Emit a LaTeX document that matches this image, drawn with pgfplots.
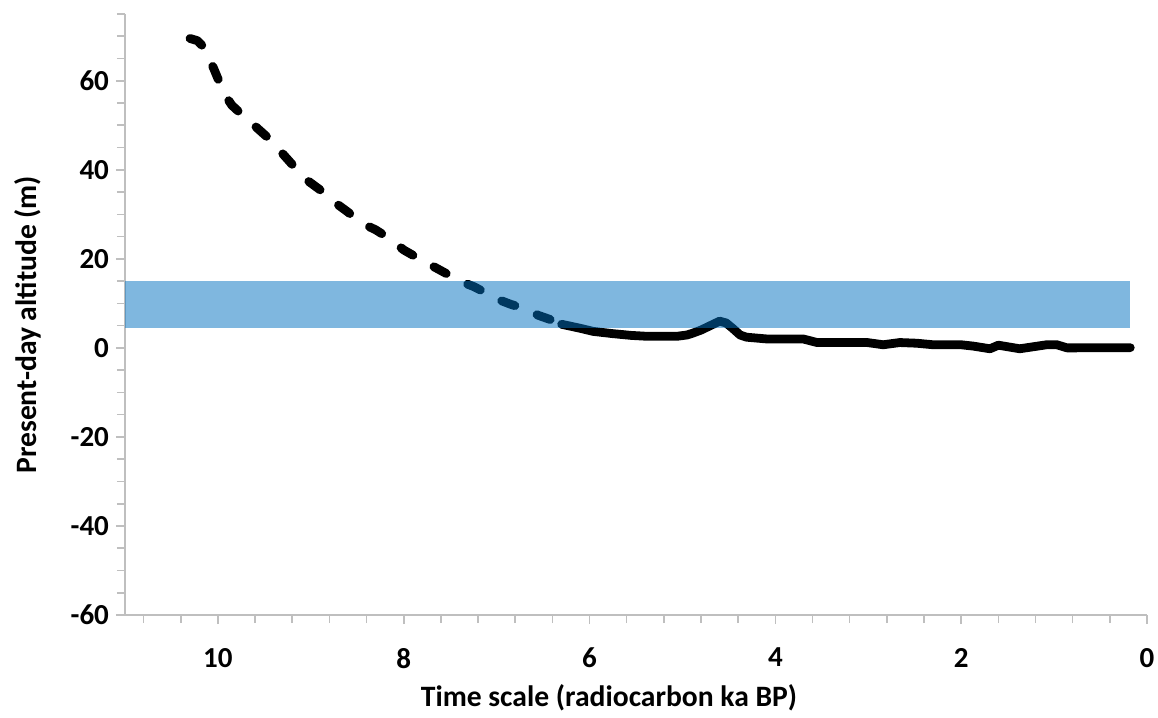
\documentclass[border=0pt]{standalone}
\usepackage{pgfplots}
\pgfplotsset{compat=1.18}
\usepackage{fontspec}
\setmainfont{Carlito}
\definecolor{axisgray}{RGB}{191,191,191}
\definecolor{bandblue}{RGB}{0,112,192}

% reconstructed sea-level curve: dashed (older, inferred) and solid parts
\pgfplotstableread{
x     y
10.30 69.5
10.22 69.0
10.15 67.5
10.08 64.5
10.00 60.5
9.93  57.0
9.85  54.5
9.72  52.0
9.60  49.8
9.45  47.0
9.32  44.0
9.17  40.5
9.03  37.5
8.90  35.5
8.75  32.8
8.60  30.5
8.45  28.0
8.30  26.5
8.15  24.5
8.00  22.0
7.85  20.2
7.70  18.5
7.55  16.8
7.40  15.0
7.25  13.8
7.10  12.2
7.00  11.0
6.85  9.8
6.70  8.8
6.55  7.3
6.40  6.2
6.30  5.3
}\dashedpart

\pgfplotstableread{
x     y
6.30  5.3
6.10  4.4
5.96  3.7
5.75  3.2
5.55  2.8
5.38  2.6
5.06  2.6
4.95  2.9
4.89  3.3
4.80  4.0
4.74  4.6
4.66  5.4
4.60  6.0
4.53  5.6
4.46  4.4
4.38  2.9
4.31  2.4
4.09  2.0
3.70  2.0
3.55  1.2
3.01  1.2
2.84  0.7
2.66  1.2
2.48  1.05
2.30  0.7
2.00  0.7
1.87  0.4
1.69  -0.2
1.60  0.6
1.37  -0.2
1.08  0.7
0.97  0.7
0.86  0.0
0.18  0.05
}\solidpart

\begin{document}
\begin{tikzpicture}
\begin{axis}[
  at={(0,0)}, anchor=south west,
  scale only axis, width=511pt, height=300.5pt,
  x dir=reverse,
  xmin=0, xmax=11, ymin=-60, ymax=75,
  axis x line*=bottom, axis y line*=left,
  axis line style={axisgray, line width=0.8pt},
  every tick/.style={axisgray, line width=0.8pt},
  tick align=outside,
  major tick length=4.5pt, minor tick length=4pt,
  xtick={0,2,...,10},
  minor xtick={0.4,0.8,...,10.81},
  ytick={-60,-40,...,60},
  minor ytick={-55,-50,...,75},
  /pgf/number format/assume math mode=true,
  tick label style={font=\bfseries\fontsize{14.5}{16}\selectfont, black},
  xticklabel style={yshift=-8.5pt},
  xlabel={Time scale (radiocarbon ka BP)},
  ylabel={Present-day altitude (m)},
  label style={font=\bfseries\fontsize{14.8}{17}\selectfont},
  xlabel style={at={(axis description cs:0.4736,0)}, anchor=center, yshift=-41.5pt},
  ylabel style={at={(axis description cs:0,0.483)}, anchor=center, yshift=48.5pt},
  clip=false,
]
\addplot[black, line width=4.4pt, line cap=round, line join=round,
  dash pattern=on 7pt off 12pt] table[x=x, y=y] {\dashedpart};
\addplot[black, line width=4.4pt, line cap=round, line join=round]
  table[x=x, y=y] {\solidpart};
% shaded altitude band, drawn over the curve
\addplot[draw=none, fill=bandblue, fill opacity=0.5]
  coordinates {(11,4.5) (0.18,4.5) (0.18,15) (11,15)} -- cycle;
\end{axis}
\pgfresetboundingbox
\useasboundingbox (-62.5pt,-51.5pt) rectangle (516.5pt,307.5pt);
\end{tikzpicture}
\end{document}
